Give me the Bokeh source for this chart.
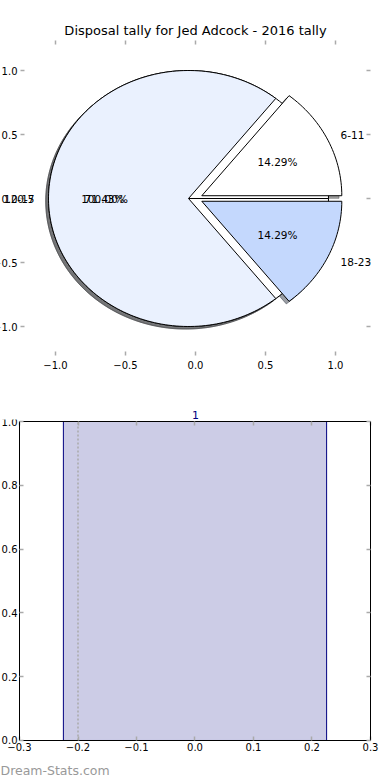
import math
from bokeh.plotting import figure
from bokeh.models import (Range1d, LinearAxis, FixedTicker, CustomJSTickFormatter,
                          Label, Title)
from bokeh.layouts import column, row
from bokeh.embed import file_html
from bokeh.resources import INLINE

# ---------------- data ----------------
title_text = "Disposal tally for Jed Adcock - 2016 tally"
categories = ["6-11", "12-17", "18-23"]
counts = [1, 5, 1]
slice_colors = ["#ffffff", "#eaf1fe", "#c4d8fd"]
explode = [0.05, 0.05, 0.05]

prior_categories = ["0-5"]
prior_counts = [1]
prior_colors = ["#ffffff"]
prior_explode = [0.05]

pie_ticks = [-1.0, -0.5, 0.0, 0.5, 1.0]

bar_title = "1"
bar_x = [0.0]
bar_height = [1.0]
bar_width = 0.45
marker_x = [-0.2]
bar_xticks = [-0.3, -0.2, -0.1, 0.0, 0.1, 0.2, 0.3]
bar_yticks = [0.0, 0.2, 0.4, 0.6, 0.8, 1.0]
footer_text = "Dream-Stats.com"

FONT = "DejaVu Sans"
TICK_COLOR = "#aaaaaa"
TICK_FS = "10px"

fmt = CustomJSTickFormatter(code="return tick.toFixed(1).replace('-', '\u2212');")
blank = CustomJSTickFormatter(code="return '';")

# pie axes: the visible box of the pie axes and the whole drawing area
PIE_AX_X = (-1.25, 1.25)
PIE_AX_Y = (-1.227, 1.234)
PIE_X0, PIE_X1 = -1.3929, 1.3929
PIE_Y0, PIE_Y1 = -1.5, 1.25

# bar axes box and drawing area
BAR_AX_X = (bar_xticks[0], bar_xticks[-1])
BAR_AX_Y = (bar_yticks[0], bar_yticks[-1])
BAR_X0, BAR_X1 = -0.33248, 0.33419
BAR_Y0, BAR_Y1 = -0.05643, 1.00627


def pie_geometry(vals, expl, start=0.0):
    total = float(sum(vals))
    theta = start
    out = []
    for v, e in zip(vals, expl):
        span = 360.0 * v / total
        t1, t2 = theta, theta + span
        mid = math.radians((t1 + t2) / 2.0)
        cx, cy = e * math.cos(mid), e * math.sin(mid)
        n = max(3, int(span / 1.5) + 1)
        ts = [math.radians(t1 + (t2 - t1) * i / (n - 1)) for i in range(n)]
        xs = [cx] + [cx + math.cos(t) for t in ts] + [cx]
        ys = [cy] + [cy + math.sin(t) for t in ts] + [cy]
        out.append(dict(xs=xs, ys=ys, cx=cx, cy=cy, mid=mid, frac=v / total))
        theta = t2
    return out


def shade(hexcol):
    r, g, b = (int(hexcol[i:i + 2], 16) for i in (1, 3, 5))
    return "#%02x%02x%02x" % (int(r * 0.3), int(g * 0.3), int(b * 0.3))


def make_axis(ticks, loc=None, labels=True, standoff=3, bounds=None, line=False):
    ax = LinearAxis(ticker=FixedTicker(ticks=ticks))
    if loc is not None:
        ax.fixed_location = loc
    if bounds is not None:
        ax.bounds = bounds
    ax.axis_line_color = "black" if line else None
    ax.axis_line_width = 1
    ax.major_tick_in = 4
    ax.major_tick_out = 0
    ax.minor_tick_line_color = None
    ax.major_tick_line_color = TICK_COLOR
    ax.major_tick_line_width = 1.5
    ax.major_label_text_font = FONT
    ax.major_label_text_font_size = TICK_FS if labels else "0px"
    ax.major_label_text_color = "black"
    ax.major_label_standoff = standoff
    ax.formatter = fmt if labels else blank
    return ax


# ---------------- pie figure ----------------
p1 = figure(width=390, height=390, x_range=Range1d(PIE_X0, PIE_X1), y_range=Range1d(PIE_Y0, PIE_Y1),
            output_backend="svg", toolbar_location=None, x_axis_location=None, y_axis_location=None,
            min_border_left=0, min_border_right=0, min_border_top=38, min_border_bottom=0)
p1.title.text = title_text
p1.title.align = "center"
p1.title.text_font = FONT
p1.title.text_font_size = "13px"
p1.title.text_font_style = "normal"
p1.title.text_color = "black"
p1.title.standoff = 2
p1.outline_line_color = None
p1.grid.visible = False

p1.add_layout(make_axis(pie_ticks, PIE_AX_Y[0], True, 5), "below")
p1.add_layout(make_axis(pie_ticks, PIE_AX_X[0], True, 3), "left")
p1.add_layout(make_axis(pie_ticks, PIE_AX_Y[1], False, 0), "above")
p1.add_layout(make_axis(pie_ticks, PIE_AX_X[1], False, 0), "right")

prior = pie_geometry(prior_counts, prior_explode)
main = pie_geometry(counts, explode)

# shadows (all under the wedges)
sh_xs, sh_ys, sh_col = [], [], []
for geo, col in list(zip(prior, prior_colors)) + list(zip(main, slice_colors)):
    sh_xs.append([x - 0.02 for x in geo["xs"]])
    sh_ys.append([y - 0.02 for y in geo["ys"]])
    sh_col.append(shade(col))
p1.patches(xs=sh_xs, ys=sh_ys, fill_color=sh_col, fill_alpha=0.5,
           line_color=sh_col, line_alpha=0.5, line_width=1)

p1.patches(xs=[g["xs"] for g in prior], ys=[g["ys"] for g in prior], fill_color=prior_colors,
           line_color="black", line_width=1)
p1.patches(xs=[g["xs"] for g in main], ys=[g["ys"] for g in main], fill_color=slice_colors,
           line_color="black", line_width=1)

for geo, name in list(zip(prior, prior_categories)) + list(zip(main, categories)):
    lx = geo["cx"] + 1.1 * math.cos(geo["mid"])
    ly = geo["cy"] + 1.1 * math.sin(geo["mid"])
    p1.add_layout(Label(x=lx, y=ly, text=name, text_align="left" if lx > 0 else "right",
                        text_baseline="middle", text_font=FONT, text_font_size="10.5px",
                        text_color="black"))
    px = geo["cx"] + 0.6 * math.cos(geo["mid"])
    py = geo["cy"] + 0.6 * math.sin(geo["mid"])
    p1.add_layout(Label(x=px, y=py, text="%.2f%%" % (100.0 * geo["frac"]), text_align="center",
                        text_baseline="middle", text_font=FONT, text_font_size="10.5px",
                        text_color="black"))

# ---------------- bar figure ----------------
p2 = figure(width=390, height=390, x_range=Range1d(BAR_X0, BAR_X1), y_range=Range1d(BAR_Y0, BAR_Y1),
            output_backend="svg", toolbar_location=None, x_axis_location=None, y_axis_location=None,
            min_border_left=0, min_border_right=0, min_border_top=29, min_border_bottom=22)
p2.title.text = bar_title
p2.title.align = "center"
p2.title.text_font = FONT
p2.title.text_font_size = "11px"
p2.title.text_font_style = "normal"
p2.title.text_color = "#000080"
p2.title.standoff = 1
p2.outline_line_color = None
p2.grid.visible = False

p2.add_layout(make_axis(bar_xticks, BAR_AX_Y[0], True, 3, BAR_AX_X, True), "below")
p2.add_layout(make_axis(bar_yticks, BAR_AX_X[0], True, 2, BAR_AX_Y, True), "left")
p2.add_layout(make_axis(bar_xticks, BAR_AX_Y[1], False, 0, BAR_AX_X, True), "above")
p2.add_layout(make_axis(bar_yticks, BAR_AX_X[1], False, 0, BAR_AX_Y, True), "right")

p2.vbar(x=bar_x, top=bar_height, bottom=0, width=bar_width,
        fill_color="#000080", fill_alpha=0.2, line_color="#000080", line_width=1)
p2.segment(x0=marker_x, y0=[BAR_AX_Y[0]] * len(marker_x), x1=marker_x, y1=[BAR_AX_Y[1]] * len(marker_x),
           line_color="#aaaaaa", line_dash="2 2", line_width=1.5)

p2.add_layout(Title(text=footer_text, align="left", text_font=FONT, text_font_size="12.5px",
                    text_font_style="normal", text_color="#999999", offset=0, standoff=4), "below")

layout = column(row(p1), row(p2))
open("out.html", "w").write(file_html(layout, INLINE))
